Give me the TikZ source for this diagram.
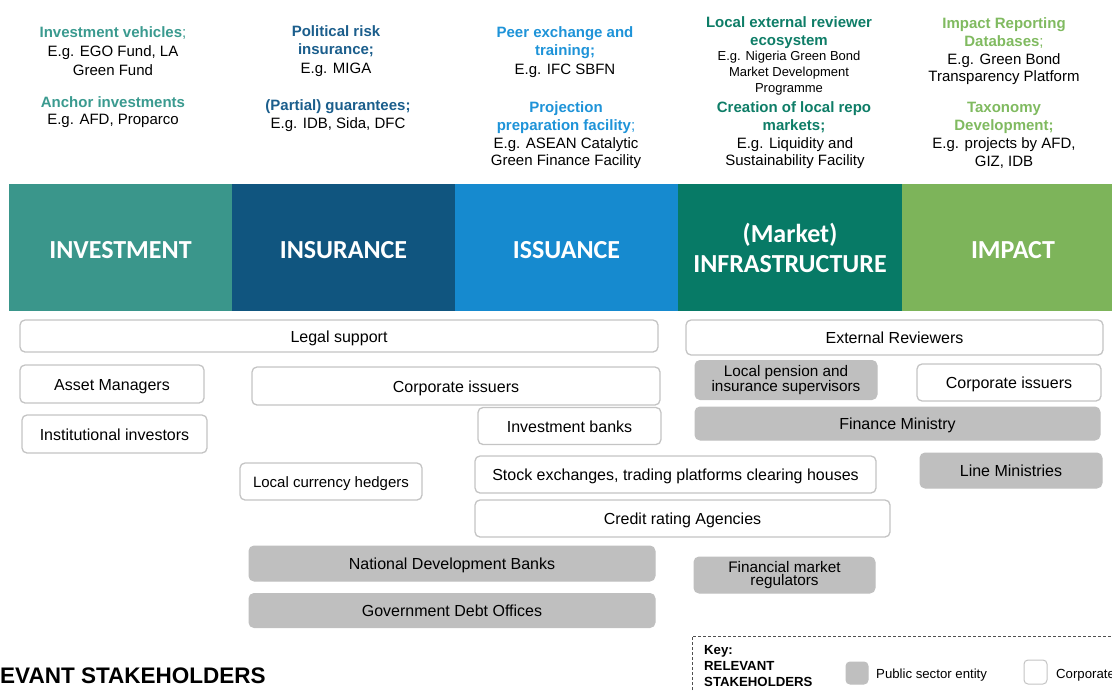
\documentclass[tikz,border=0pt]{standalone}
\usepackage{fontspec}
\setmainfont{Liberation Sans}
\newfontfamily\hdfont{Carlito}
\definecolor{cInv}{HTML}{3A968B}
\definecolor{cIns}{HTML}{10557F}
\definecolor{cIss}{HTML}{168ACF}
\definecolor{cMkt}{HTML}{077A66}
\definecolor{cImp}{HTML}{7DB45A}
\definecolor{tInv}{HTML}{3A9A8F}
\definecolor{tIns}{HTML}{1B5E8C}
\definecolor{tIss}{HTML}{1E93D8}
\definecolor{tMkt}{HTML}{0E7D67}
\definecolor{tImp}{HTML}{80BA60}
\definecolor{pubfill}{HTML}{BFBFBF}
\definecolor{boxline}{HTML}{C4C4C4}
\definecolor{keyline}{HTML}{505050}
\tikzset{
  band/.style={inner sep=0pt, draw=none, text=white, align=center,
    font=\hdfont\bfseries\fontsize{26}{30}\selectfont},
  bandone/.style={band, text height=21pt, text depth=0pt},
  ttl/.style={inner sep=0pt, align=center, yshift=-2.5pt, font=\bfseries\fontsize{15}{18}\selectfont},
  bdy/.style={inner sep=0pt, align=center, yshift=-2.5pt, text=black, font=\fontsize{15}{17.5}\selectfont},
  bdysmall/.style={inner sep=0pt, align=center, yshift=-2.5pt, text=black, font=\fontsize{13}{16}\selectfont},
  corpbase/.style={draw=boxline, line width=1.3pt, rounded corners=5pt, fill=white,
    inner sep=0pt, align=center, font=\fontsize{16}{18}\selectfont},
  pubbase/.style={draw=pubfill, line width=1pt, rounded corners=5pt, fill=pubfill,
    inner sep=0pt, align=center, font=\fontsize{16}{18}\selectfont},
  corpbox/.style={corpbase, text height=12pt, text depth=0pt},
  pubbox/.style={pubbase, text height=12pt, text depth=0pt},
  twoline/.style={font=\fontsize{15.3}{13.5}\selectfont},
  keytxt/.style={inner sep=0pt, font=\fontsize{13.2}{16}\selectfont}
}
\begin{document}
\begin{tikzpicture}[x=1pt,y=-1pt]
\useasboundingbox (0,0) rectangle (1112,691);
\clip (0,0) rectangle (1112,691);
% header band
\node[bandone, fill=cInv, minimum width=223pt, minimum height=127pt] (hInv) at (120.5,247.5) {INVESTMENT};
\node[bandone, fill=cIns, minimum width=223pt, minimum height=127pt] (hIns) at (343.5,247.5) {INSURANCE};
\node[bandone, fill=cIss, minimum width=223pt, minimum height=127pt] (hIss) at (566.5,247.5) {ISSUANCE};
\node[band, fill=cMkt, minimum width=224pt, minimum height=127pt] (hMkt) at (790,247.5) {(Market)\\INFRASTRUCTURE};
\node[bandone, fill=cImp, minimum width=222pt, minimum height=127pt] (hImp) at (1013,247.5) {IMPACT};
% column 1
\node[ttl, text=tInv] (t11) at (113,31) {Investment vehicles{\mdseries;}};
\node[bdy, font=\fontsize{15}{18.5}\selectfont] (b11) at (113,58) {E.g. EGO Fund, LA\\Green Fund};
\node[ttl, text=tInv] (t12) at (113,100) {Anchor investments};
\node[bdy] (b12) at (113,118) {E.g. AFD, Proparco};
% column 2
\node[ttl, text=tIns] (t21) at (336,39) {Political risk\\insurance;};
\node[bdy] (b21) at (336,67) {E.g. MIGA};
\node[ttl, text=tIns] (t22) at (338,104) {(Partial) guarantees;};
\node[bdy] (b22) at (338,122) {E.g. IDB, Sida, DFC};
% column 3
\node[ttl, text=tIss] (t31) at (565,40) {Peer exchange and\\training;};
\node[bdy] (b31) at (565,68) {E.g. IFC SBFN};
\node[ttl, text=tIss] (t32) at (566,115) {Projection\\preparation facility{\mdseries;}};
\node[bdy] (b32) at (566,150.5) {E.g. ASEAN Catalytic\\Green Finance Facility};
% column 4
\node[ttl, text=tMkt] (t41) at (789,30) {Local external reviewer\\ecosystem};
\node[bdysmall] (b41) at (789,71) {E.g. Nigeria Green Bond\\Market Development\\Programme};
\node[ttl, text=tMkt] (t42) at (794,115) {Creation of local repo\\markets;};
\node[bdy] (b42) at (795,150.5) {E.g. Liquidity and\\Sustainability Facility};
% column 5
\node[ttl, text=tImp] (t51) at (1004,31) {Impact Reporting\\Databases{\mdseries;}};
\node[bdy] (b51) at (1004,66.5) {E.g. Green Bond\\Transparency Platform};
\node[ttl, text=tImp] (t52) at (1004,115) {Taxonomy\\Development;};
\node[bdy] (b52) at (1004,150.5) {E.g. projects by AFD,\\GIZ, IDB};
% stakeholder boxes
\node[corpbox, minimum width=638pt, minimum height=32pt] (legal) at (339,336) {Legal support};
\node[corpbox, minimum width=417pt, minimum height=35pt] (extrev) at (894.5,337.5) {External Reviewers};
\node[corpbox, minimum width=184pt, minimum height=38pt] (asset) at (112,384) {Asset Managers};
\node[corpbox, minimum width=185pt, minimum height=38pt] (inst) at (114.5,434) {Institutional investors};
\node[corpbox, minimum width=408pt, minimum height=38pt] (corp1) at (456,386) {Corporate issuers};
\node[corpbox, minimum width=183pt, minimum height=37pt] (invb) at (569.5,426) {Investment banks};
\node[corpbox, minimum width=182pt, minimum height=37pt, font=\fontsize{15}{17}\selectfont] (lch) at (331,481.5) {Local currency hedgers};
\node[corpbox, minimum width=401pt, minimum height=37pt] (stock) at (675.5,474.5) {Stock exchanges, trading platforms clearing houses};
\node[corpbox, minimum width=415pt, minimum height=37pt] (credit) at (682.5,518.5) {Credit rating Agencies};
\node[pubbox, minimum width=406pt, minimum height=35pt] (ndb) at (452,563.5) {National Development Banks};
\node[pubbox, minimum width=406pt, minimum height=34pt] (gdo) at (452,610.5) {Government Debt Offices};
\node[pubbase, twoline, minimum width=182pt, minimum height=39pt] (lps) at (786,380) {Local pension and\\insurance supervisors};
\node[corpbox, minimum width=184pt, minimum height=37pt] (corp2) at (1009,382.5) {Corporate issuers};
\node[pubbox, minimum width=405pt, minimum height=33pt] (finmin) at (897.5,423.5) {Finance Ministry};
\node[pubbox, minimum width=182pt, minimum height=35pt] (linemin) at (1011,470.5) {Line Ministries};
\node[pubbase, twoline, minimum width=181pt, minimum height=36pt] (fmr) at (784.5,575) {Financial market\\regulators};
% bottom title
\node[anchor=base west, inner sep=0pt, font=\bfseries\fontsize{22.5}{24}\selectfont] (rs) at (-45,683) {RELEVANT STAKEHOLDERS};
% key
\draw[keyline, line width=0.9pt, dash pattern=on 3pt off 2pt] (692,700) -- (692,636) -- (1120,636);
\node[keytxt, anchor=north west, align=left, font=\bfseries\fontsize{13.2}{16}\selectfont] (key) at (704,645) {Key:\\RELEVANT\\STAKEHOLDERS};
\node[pubbase, minimum width=22pt, minimum height=22pt, rounded corners=4pt] (kpub) at (857,673) {};
\node[keytxt, anchor=west, yshift=-2pt] (kpubt) at (876,673) {Public sector entity};
\node[corpbase, minimum width=23pt, minimum height=24pt, rounded corners=4pt, line width=1pt] (kcorp) at (1035.5,672) {};
\node[keytxt, anchor=west, yshift=-2pt] (kcorpt) at (1056,673) {Corporate};
\end{tikzpicture}
\end{document}
